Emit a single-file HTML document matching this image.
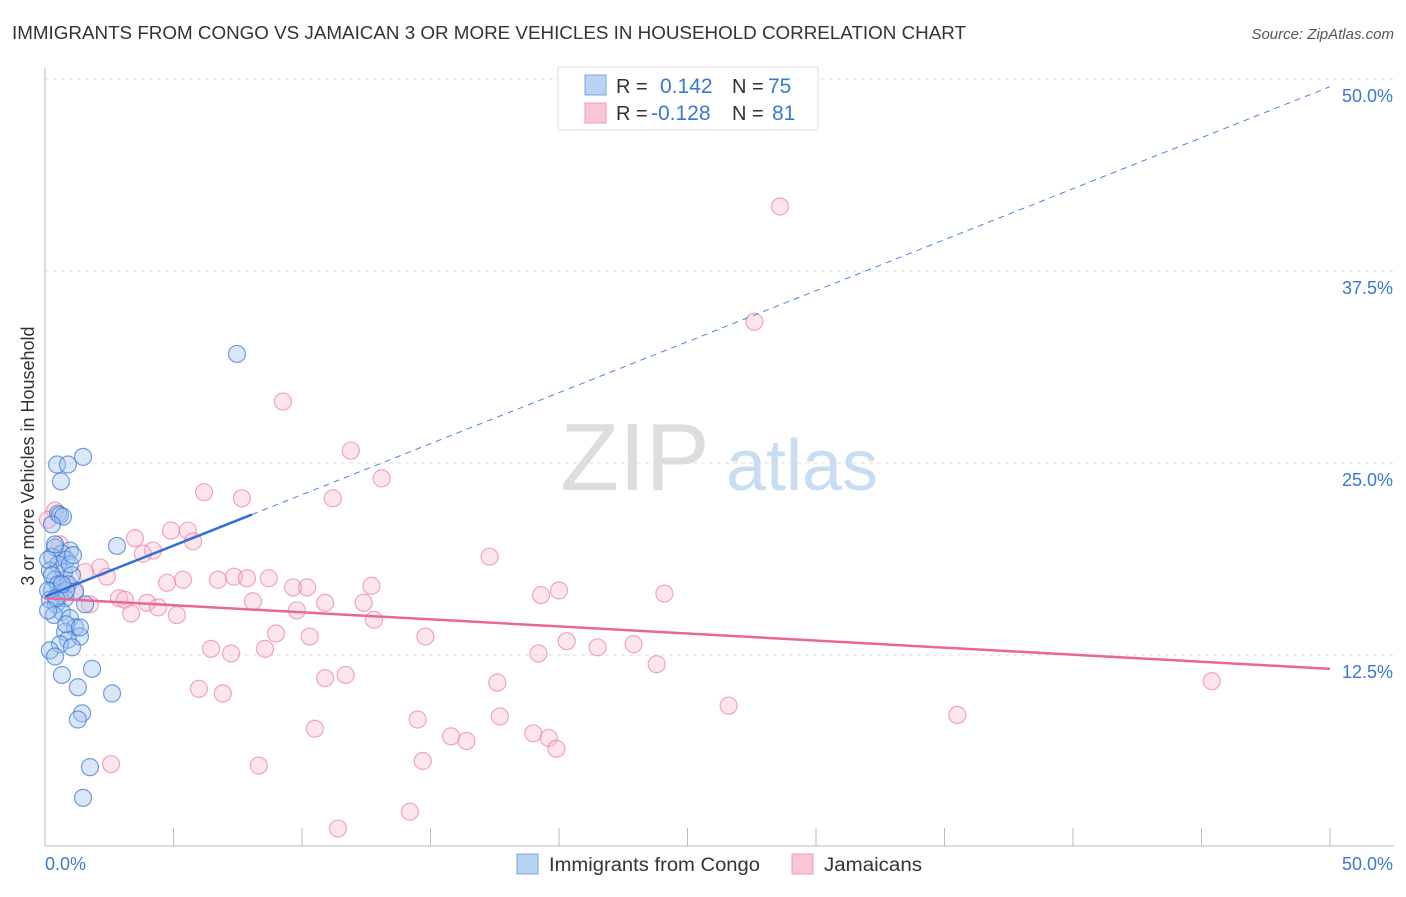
<!DOCTYPE html>
<html><head><meta charset="utf-8"><style>
body{margin:0;background:#fff;font-family:"Liberation Sans",sans-serif;}
svg text{font-family:"Liberation Sans",sans-serif;}
</style></head><body>
<svg id="chart" width="1406" height="892" xmlns="http://www.w3.org/2000/svg">
<text x="12" y="39" font-size="18" fill="#333" textLength="954" lengthAdjust="spacingAndGlyphs">IMMIGRANTS FROM CONGO VS JAMAICAN 3 OR MORE VEHICLES IN HOUSEHOLD CORRELATION CHART</text>
<text x="1394" y="39" font-size="15" fill="#555" text-anchor="end" font-style="italic">Source: ZipAtlas.com</text>
<text transform="translate(34,456) rotate(-90)" font-size="18" fill="#333" text-anchor="middle">3 or more Vehicles in Household</text>
<g><text x="635" y="490" font-size="96" fill="#ddd" font-family="Liberation Serif" text-anchor="middle">ZIP</text><text x="802" y="490" font-size="72" fill="#c8dcf2" text-anchor="middle">atlas</text></g>
<g id="grid"></g><g id="axes"></g><g id="pts"></g><g id="lines"></g>
<g>
<rect x="558" y="67" width="260" height="63" fill="#fff" stroke="#ddd"/>
<rect x="585" y="75" width="21" height="20" fill="#b8d3f4" stroke="#7aa7e0"/>
<rect x="585" y="103" width="21" height="20" fill="#f8c6d6" stroke="#f09ab5"/>
<text x="616" y="93" font-size="20" fill="#333">R =</text><text x="660" y="93" font-size="21" fill="#3a78d0">0.142</text>
<text x="732" y="93" font-size="20" fill="#333">N =</text><text x="768" y="93" font-size="21" fill="#3a78d0">75</text>
<text x="616" y="120" font-size="20" fill="#333">R =</text><text x="651" y="120" font-size="21" fill="#3a78d0">-0.128</text>
<text x="732" y="120" font-size="20" fill="#333">N =</text><text x="772" y="120" font-size="21" fill="#3a78d0">81</text>
</g>
<g>
<rect x="517" y="854" width="21" height="20" fill="#b8d3f4" stroke="#7aa7e0"/>
<text x="549" y="871" font-size="19" fill="#333" textLength="211" lengthAdjust="spacingAndGlyphs">Immigrants from Congo</text>
<rect x="792" y="854" width="21" height="20" fill="#f8c6d6" stroke="#f09ab5"/>
<text x="824" y="871" font-size="19" fill="#333" textLength="98" lengthAdjust="spacingAndGlyphs">Jamaicans</text>
</g>
</svg>
<script>
const yTicks=[12.5,25,37.5,50];
const yTickLabels=["12.5%","25.0%","37.5%","50.0%"];
const xTicks=[0,5,10,15,20,25,30,35,40,45,50];
const congoX=[7.47,1.48,0.47,0.89,0.62,0.51,0.58,0.70,0.27,2.80,0.39,0.97,0.66,0.27,0.82,0.51,0.19,0.74,1.05,0.39,0.89,0.27,0.58,1.17,0.78,0.19,0.43,1.56,0.66,0.35,0.97,1.17,0.78,1.36,0.89,0.58,1.05,0.19,0.39,0.66,1.83,1.28,2.61,1.44,1.28,1.75,1.48,0.12,0.27,0.51,0.82,0.12,0.43,0.66,0.97,1.09,0.39,0.12,0.82,1.36];
const congoY=[32.1,25.4,24.9,24.9,23.8,21.7,21.6,21.5,21.0,19.6,19.5,19.3,19.1,18.9,18.7,18.4,18.0,17.9,17.7,17.4,17.1,16.7,16.5,16.6,16.2,16.1,15.8,15.8,15.3,15.1,14.9,14.3,14.0,13.7,13.5,13.2,13.0,12.8,12.4,11.2,11.6,10.4,10.0,8.7,8.3,5.2,3.2,18.7,17.7,17.1,16.7,16.7,16.2,17.1,18.4,19.0,19.7,15.4,14.5,14.3];
const jamX=[28.6,27.6,9.26,11.9,13.1,6.19,7.66,11.2,0.39,3.50,4.90,5.56,5.76,4.20,3.81,17.3,2.14,2.41,1.56,7.35,6.73,5.37,4.75,7.86,8.71,9.65,10.2,12.7,20.0,19.3,24.1,2.88,3.11,3.97,8.09,10.9,12.4,1.75,9.80,3.35,4.40,5.13,12.8,8.99,10.3,14.8,20.3,22.9,21.5,6.46,7.24,8.56,19.2,23.8,11.7,10.9,17.6,45.4,5.99,6.92,26.6,17.7,14.5,35.5,10.5,19.0,15.8,16.4,19.6,19.9,2.57,8.32,14.7,14.2,11.4,0.58,0.78,0.51,0.12,1.17];
const jamY=[41.7,34.2,29.0,25.8,24.0,23.1,22.7,22.7,21.9,20.1,20.6,20.6,19.9,19.3,19.1,18.9,18.2,17.6,17.9,17.6,17.4,17.4,17.2,17.5,17.5,16.9,16.9,17.0,16.7,16.4,16.5,16.2,16.1,15.9,16.0,15.9,15.9,15.8,15.4,15.2,15.6,15.1,14.8,13.9,13.7,13.7,13.4,13.2,13.0,12.9,12.6,12.9,12.6,11.9,11.2,11.0,10.7,10.8,10.3,10.0,9.2,8.5,8.3,8.6,7.7,7.4,7.2,6.9,7.1,6.4,5.4,5.3,5.6,2.3,1.2,19.7,17.4,16.2,21.3,16.7];
const congoFit=[16.3,49.5], congoSolidEnd=8.05;
const jamFit=[16.2,11.6];
const X=v=>45+v/50*1285, Y=v=>847-v/12.5*192;
const NS="http://www.w3.org/2000/svg";
function mk(p,t,a){const e=document.createElementNS(NS,t);for(const k in a)e.setAttribute(k,a[k]);p.appendChild(e);return e;}
const grid=document.getElementById('grid'),axes=document.getElementById('axes');
yTicks.forEach((t,i)=>{
 const l=mk(grid,'line',{x1:45,x2:1394,y1:Y(t),y2:Y(t),stroke:'#ddd','stroke-dasharray':'4,4'});
 
 
 const tx=mk(axes,'text',{x:1393,y:Y(t)+23,'font-size':18,fill:'#3a78d0','text-anchor':'end'});
 tx.textContent=yTickLabels[i];
 
 
});
const ya=mk(axes,'line',{x1:45,x2:45,y1:68,y2:846,stroke:'#bbb'});


const xa=mk(axes,'line',{x1:45,x2:1394,y1:846,y2:846,stroke:'#bbb'});


xTicks.forEach(t=>{const l=mk(axes,'line',{x1:X(t),x2:X(t),y1:828,y2:846,stroke:'#bbb'});
 
 });
[[0,'0.0%',45,'start'],[50,'50.0%',1393,'end']].forEach(d=>{const t=mk(axes,'text',{x:d[2],y:870,'font-size':18,fill:'#3a78d0','text-anchor':d[3]});t.textContent=d[1];
 
 });
const pts=document.getElementById('pts');
jamX.forEach((v,i)=>{const c=mk(pts,'circle',{cx:X(v),cy:Y(jamY[i]),r:8.5,fill:'rgba(248,180,205,0.35)',stroke:'rgba(236,130,165,0.7)','stroke-width':1.2});
 
 });
congoX.forEach((v,i)=>{const c=mk(pts,'circle',{cx:X(v),cy:Y(congoY[i]),r:8.5,fill:'rgba(160,195,240,0.4)',stroke:'rgba(60,120,210,0.7)','stroke-width':1.2});
 
 });
const ln=document.getElementById('lines');
const cy=x=>congoFit[0]+(congoFit[1]-congoFit[0])*x/50;
const l1=mk(ln,'line',{x1:X(0),y1:Y(cy(0)),x2:X(congoSolidEnd),y2:Y(cy(congoSolidEnd)),stroke:'#2d6fd6','stroke-width':2.5});


const l2=mk(ln,'line',{x1:X(congoSolidEnd),y1:Y(cy(congoSolidEnd)),x2:X(50),y2:Y(cy(50)),stroke:'#4a84d8','stroke-width':1,'stroke-dasharray':'6,5'});


const l3=mk(ln,'line',{x1:X(0),y1:Y(jamFit[0]),x2:X(50),y2:Y(jamFit[1]),stroke:'#e8679a','stroke-width':2.5});


</script>
</body></html>
